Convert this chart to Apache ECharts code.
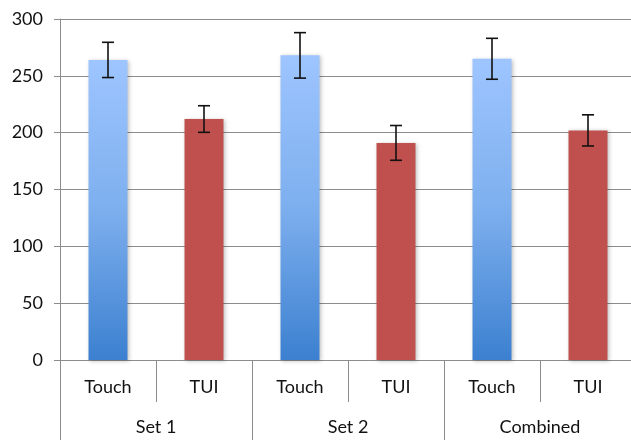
<!DOCTYPE html>
<html><head><meta charset="utf-8">
<script src="https://cdn.jsdelivr.net/npm/echarts@6/dist/echarts.min.js"></script>
<style>html,body{margin:0;padding:0;background:#fff}#c{width:631px;height:440px}</style>
</head><body><div id="c"></div>
<script>
var conditions = ['Touch', 'TUI'];
var groups = ['Set 1', 'Set 2', 'Combined'];
var touchMeans = [264, 268, 265];
var touchErr = [15.5, 20, 18];
var tuiMeans = [212, 191, 202];
var tuiErr = [11.7, 15.3, 13.7];
var yTicks = [0, 50, 100, 150, 200, 250, 300];

var cats = [], vals = [], errs = [];
groups.forEach(function (g, i) {
  cats.push(conditions[0]); vals.push({value: touchMeans[i], kind: 0}); errs.push([cats.length - 1, touchMeans[i], touchErr[i]]);
  cats.push(conditions[1]); vals.push({value: tuiMeans[i], kind: 1}); errs.push([cats.length - 1, tuiMeans[i], tuiErr[i]]);
});
var blueGrad = new echarts.graphic.LinearGradient(0, 0, 0, 1, [
  {offset: 0, color: '#9EC5FF'}, {offset: 0.5, color: '#7DAFEE'}, {offset: 1, color: '#3C80D0'}
]);
vals = vals.map(function (d) {
  return {value: d.value, itemStyle: {color: d.kind === 0 ? blueGrad : '#C0504D'}};
});
var font = 'Lato, "Open Sans", sans-serif';
var chart = echarts.init(document.getElementById('c'));
chart.setOption({
  animation: false,
  grid: {left: 60, top: 19, width: 576, height: 341, containLabel: false, outerBoundsMode: 'none'},
  xAxis: [{
    type: 'category', data: cats, position: 'bottom',
    axisLine: {show: true, lineStyle: {color: '#8c8c8c', width: 1}},
    axisTick: {show: true, interval: 0, length: 42, lineStyle: {color: '#8c8c8c'}},
    axisLabel: {interval: 0, margin: 18, fontSize: 18, color: '#111', fontFamily: font}
  }, {
    type: 'category', data: groups, position: 'bottom',
    axisLine: {show: false},
    axisTick: {show: true, interval: 0, length: 80, lineStyle: {color: '#8c8c8c'}},
    axisLabel: {interval: 0, margin: 58, fontSize: 18, color: '#111', fontFamily: font}
  }],
  yAxis: {
    type: 'value', min: 0, max: 300, interval: 50,
    axisLine: {show: true, lineStyle: {color: '#8c8c8c'}},
    axisTick: {show: true, length: 6, lineStyle: {color: '#8c8c8c'}},
    splitLine: {lineStyle: {color: '#8c8c8c', width: 1}},
    axisLabel: {margin: 17, fontSize: 18, color: '#111', fontFamily: font,
      formatter: function (v) { return yTicks.indexOf(v) >= 0 ? String(v) : ''; }}
  },
  series: [{
    type: 'bar', xAxisIndex: 0, data: vals, barWidth: 39,
    itemStyle: {shadowColor: 'rgba(0,0,0,0.25)', shadowBlur: 4, shadowOffsetX: 1, shadowOffsetY: 1}
  }, {
    type: 'custom', xAxisIndex: 0, data: errs, z: 10,
    renderItem: function (params, api) {
      var x = api.value(0), m = api.value(1), e = api.value(2);
      var hi = api.coord([x, m + e]), lo = api.coord([x, m - e]);
      var w = 6;
      var st = {stroke: '#111', lineWidth: 1.6};
      return {type: 'group', children: [
        {type: 'line', shape: {x1: hi[0], y1: hi[1], x2: lo[0], y2: lo[1]}, style: st},
        {type: 'line', shape: {x1: hi[0] - w, y1: hi[1], x2: hi[0] + w, y2: hi[1]}, style: st},
        {type: 'line', shape: {x1: lo[0] - w, y1: lo[1], x2: lo[0] + w, y2: lo[1]}, style: st}
      ]};
    }
  }]
});
</script></body></html>
